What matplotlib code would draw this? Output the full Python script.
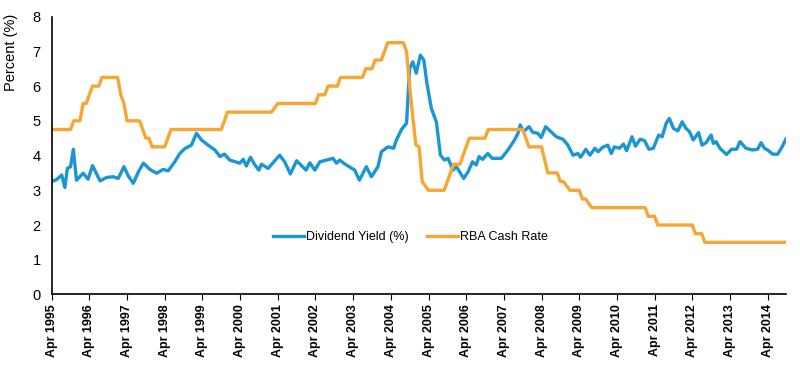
import matplotlib
matplotlib.use("Agg")
import matplotlib.pyplot as plt

plt.rcParams['font.family'] = ['Liberation Sans', 'DejaVu Sans']

# months since Apr 1995
yield_months = [0, 1.6, 3.2, 4.2, 5, 6, 6.9, 7.9, 10, 11.6, 13, 14, 15.4, 17.5, 19.6,
                21.2, 23, 24.4, 26, 27.6, 29.2, 31.3, 33.4, 35.5, 37.1, 39.2, 40.8,
                42.4, 44.5, 46.1, 47.7, 49.8, 52, 53.6, 55, 56.7, 59.9, 61, 62, 63.3,
                64.7, 66, 66.8, 68.9, 72.6, 74.2, 76, 78, 81, 82.2, 83.8, 85.4, 89.6,
                90.7, 91.7, 93.3, 96.5, 98, 100.2, 101.8, 103.9, 105, 107.1, 108.9,
                109.8, 111.4, 113, 114, 115, 116.1, 117.4, 118.5, 119.5, 120.9, 122.5,
                123.8, 125.1, 126.2, 126.7, 127.8, 128.9, 131.2, 132.6, 134, 135.2,
                136.1, 137.2, 138.9, 140.3, 143.2, 145.3, 147.4, 148.5, 149.2, 150.3,
                152, 153.2, 154.8, 155.9, 157.3, 158.5, 160.7, 162.8, 164.4, 166,
                167.6, 168.4, 170.1, 171.4, 173, 174, 175.5, 177.1, 178.2, 179.2,
                180.8, 182.1, 183.1, 184.8, 185.9, 187.4, 188.8, 190.2, 191.6, 193.3,
                194.4, 195.7, 196.7, 198, 199.4, 200.8, 202, 203.1, 204.3, 206, 207.1,
                208.4, 210, 210.7, 211.6, 212.8, 214.9, 216.5, 218.1, 219.2, 221.1,
                223.2, 224.8, 225.9, 227, 228, 229.6, 231.2, 232.6, 233.8]
dividend_yield = [3.25, 3.31, 3.44, 3.08, 3.63, 3.68, 4.18, 3.29, 3.49, 3.32, 3.71, 3.53,
                  3.27, 3.37, 3.39, 3.34, 3.68, 3.41, 3.2, 3.53, 3.78, 3.6, 3.49, 3.6,
                  3.56, 3.82, 4.06, 4.2, 4.3, 4.64, 4.45, 4.3, 4.16, 3.97, 4.04, 3.87,
                  3.78, 3.89, 3.7, 3.95, 3.73, 3.58, 3.75, 3.63, 4.01, 3.82, 3.47, 3.85,
                  3.58, 3.79, 3.58, 3.82, 3.92, 3.78, 3.87, 3.76, 3.58, 3.29, 3.68, 3.39,
                  3.68, 4.11, 4.25, 4.21, 4.45, 4.75, 4.93, 6.51, 6.7, 6.37, 6.89, 6.75,
                  6.08, 5.36, 4.97, 4.01, 3.87, 3.92, 3.82, 3.58, 3.68, 3.34, 3.53, 3.82,
                  3.73, 3.97, 3.89, 4.06, 3.92, 3.92, 4.16, 4.45, 4.64, 4.88, 4.69, 4.83,
                  4.67, 4.64, 4.52, 4.83, 4.73, 4.54, 4.47, 4.3, 4.01, 4.06, 3.95, 4.18,
                  4.01, 4.21, 4.11, 4.24, 4.3, 4.06, 4.25, 4.21, 4.33, 4.14, 4.54, 4.27,
                  4.47, 4.43, 4.18, 4.21, 4.59, 4.54, 4.93, 5.07, 4.78, 4.71, 4.97, 4.78,
                  4.69, 4.45, 4.66, 4.3, 4.37, 4.59, 4.35, 4.4, 4.21, 4.03, 4.18, 4.18,
                  4.4, 4.21, 4.16, 4.18, 4.37, 4.21, 4.16, 4.04, 4.04, 4.25, 4.47]

cash_months = [0, 6, 7, 9, 10, 11, 13, 15, 16, 21, 22, 23, 24, 28, 30, 31, 32, 36, 38,
               54, 56, 70, 72, 84, 85, 87, 88, 91, 92, 99, 100, 102, 103, 105, 107, 112,
               113, 114, 115, 116, 117, 118, 120, 125, 126, 128, 130, 133, 138, 139, 150,
               152, 156, 158, 161, 162, 163, 165, 168, 169, 170, 172, 189, 190, 192, 193,
               204, 205, 207, 208, 234]
cash_rate = [4.75, 4.75, 5.0, 5.0, 5.5, 5.5, 6.0, 6.0, 6.25, 6.25, 5.75, 5.5, 5.0, 5.0,
             4.5, 4.5, 4.25, 4.25, 4.75, 4.75, 5.25, 5.25, 5.5, 5.5, 5.75, 5.75, 6.0,
             6.0, 6.25, 6.25, 6.5, 6.5, 6.75, 6.75, 7.25, 7.25, 7.0, 6.0, 5.1, 4.3,
             4.25, 3.25, 3.0, 3.0, 3.25, 3.75, 3.75, 4.5, 4.5, 4.75, 4.75, 4.25, 4.25,
             3.5, 3.5, 3.25, 3.25, 3.0, 3.0, 2.75, 2.75, 2.5, 2.5, 2.25, 2.25, 2.0, 2.0,
             1.75, 1.75, 1.5, 1.5]

tick_months = list(range(0, 229, 12))
tick_labels = ['Apr %d' % y for y in range(1995, 2015)]

fig = plt.figure(figsize=(8, 3.78), dpi=100)
ax = fig.add_axes([0.0646, 0.221, 0.9185, 0.735])

ax.plot(yield_months, dividend_yield, color='#1a96d4', linewidth=2.4,
        label='Dividend Yield (%)')
ax.plot(cash_months, cash_rate, color='#f8a631', linewidth=2.4,
        label='RBA Cash Rate')

ax.set_xlim(0, 234)
ax.set_ylim(0, 8)
ax.set_yticks(range(0, 9))
ax.set_xticks(tick_months)
ax.set_xticklabels(tick_labels, rotation=90, fontsize=9, fontweight='bold')
ax.tick_params(axis='y', length=0, labelsize=10.5, pad=8)
ax.tick_params(axis='x', length=4, direction='out', pad=3)

for s in ['top', 'right']:
    ax.spines[s].set_visible(False)
ax.spines['left'].set_linewidth(1.2)
ax.spines['bottom'].set_linewidth(1.2)

ax.set_ylabel('Percent (%)', fontsize=10.5)
ax.yaxis.set_label_coords(-0.046, 0.872)

ax.legend(loc='center', bbox_to_anchor=(0.488, 0.207), ncol=2, frameon=False,
          fontsize=9, handlelength=2.5, handletextpad=0.1, columnspacing=1.5)

fig.savefig('out.png', dpi=100)
